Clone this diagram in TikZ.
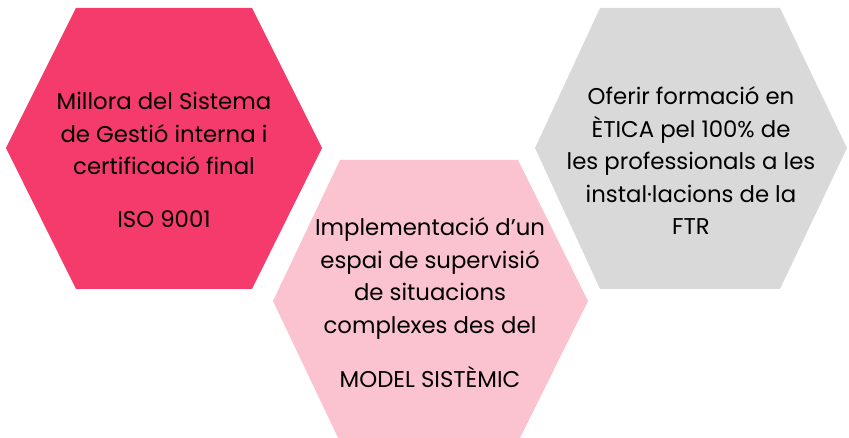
\documentclass[tikz,border=0pt]{standalone}
\usepackage{fontspec}
\setmainfont{Poppins}
\usepackage{tikz}
\usetikzlibrary{positioning}
\definecolor{hexred}{RGB}{244,59,107}
\definecolor{hexpink}{RGB}{251,194,207}
\definecolor{hexgrey}{RGB}{217,217,217}
\tikzset{
    hexlabel/.style={align=center,text=black,inner sep=0pt,font=\fontsize{22.8}{32.5}\selectfont},
}

\begin{document}
\begin{tikzpicture}[x=1pt,y=-1pt]
\useasboundingbox (0,0) rectangle (849,438);
% hexagons
\fill[hexred] (6,148) -- (76,8) -- (252,8) -- (322,148) -- (252,289) -- (76,289) -- cycle;
\fill[hexpink] (273,301) -- (340,160) -- (518,160) -- (588,301) -- (518,442) -- (340,442) -- cycle;
\fill[hexgrey] (535,148) -- (600,8) -- (780,8) -- (847,148) -- (780,289) -- (600,289) -- cycle;
% labels
\node[hexlabel] (gestio) at (164,160) {Millora del Sistema\\de Gestió interna i\\certificació final\\[20pt]ISO 9001};
\node[hexlabel] (model) at (430,303) {Implementació d’un\\espai de supervisió\\de situacions\\complexes des del\\[22pt]MODEL SISTÈMIC};
\node[hexlabel] (etica) at (691,161) {Oferir formació en\\ÈTICA pel 100\% de\\les professionals a les\\instal·lacions de la\\FTR};
\end{tikzpicture}
\end{document}
